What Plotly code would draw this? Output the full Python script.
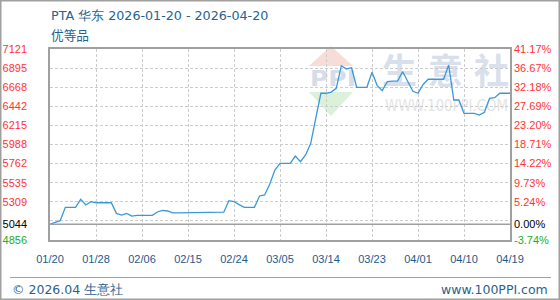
import base64
import plotly.graph_objects as go

# ---------------- data ----------------
x_tick_labels = ["01/20", "01/28", "02/06", "02/15", "02/24", "03/05",
                 "03/14", "03/23", "04/01", "04/10", "04/19"]
tick_step = 9

prices = [
    5044, 5062, 5085, 5244, 5244, 5244, 5338, 5271, 5310, 5298,
    5298, 5298, 5298, 5172, 5152, 5172, 5140, 5148, 5148, 5148,
    5148, 5188, 5208, 5200, 5178, 5178, 5178, 5178, 5178, 5178,
    5186, 5186, 5186, 5186, 5186, 5322, 5310, 5275, 5244, 5244,
    5244, 5378, 5390, 5520, 5686, 5765, 5765, 5765, 5852, 5784,
    5864, 6000, 6300, 6596, 6596, 6610, 6655, 6923, 6884, 6899,
    6667, 6667, 6667, 6845, 6690, 6627, 6733, 6741, 6741, 6852,
    6740, 6620, 6596, 6700, 6762, 6762, 6762, 6762, 6931, 6516,
    6516, 6358, 6358, 6358, 6338, 6370, 6536, 6544, 6596, 6596,
    6596,
]

base_price = 5044
y_min, y_max = 4856, 7121
grid_values = [7121, 6894.5, 6668, 6441.5, 6215, 5988.5, 5762, 5535.5, 5309, 5082.5, 4856]
left_labels = ["7121", "6895", "6668", "6442", "6215", "5988", "5762", "5535", "5309", "", "4856"]
right_labels = ["41.17%", "36.67%", "32.18%", "27.69%", "23.20%", "18.71%", "14.22%",
                "9.73%", "5.24%", "", "-3.74%"]
base_left_label = "5044"
base_right_label = "0.00%"

title_text = "PTA 华东 2026-01-20 - 2026-04-20"
subtitle_text = "优等品"
footer_left = "© 2026.04 生意社"
footer_right = "www.100PPI.com"

# ---------------- styling ----------------
RED = "#ff3333"
GREEN = "#22b022"
BLUE_TXT = "#1d5a8c"
LINE = "#3b98d8"
GRID = "#cccccc"
FRAME = "#a0a0a0"

W, H = 560, 300
L, R, T, B = 50, 50, 49, 60
PW, PH = W - L - R, H - T - B


def px(xp):
    return (xp - L) / PW


def py(yp):
    return (H - B - yp) / PH


x_idx = list(range(len(prices)))
tickvals_x = [i * tick_step for i in range(len(x_tick_labels))]

# y ticks (with the base value line)
yt_vals = grid_values + [base_price]
yl_text = [t if t != "4856" else f"<span style='color:{GREEN}'>{t}</span>" for t in left_labels]
yl_text += [f"<span style='color:#000000'>{base_left_label}</span>"]
yr_text = [t if not t.startswith("-") else f"<span style='color:{GREEN}'>{t}</span>" for t in right_labels]
yr_text += [f"<span style='color:#000000'>{base_right_label}</span>"]

fig = go.Figure()
fig.add_trace(go.Scatter(x=x_idx, y=prices, mode="lines",
                         line=dict(color=LINE, width=1.3), hoverinfo="skip",
                         showlegend=False))
fig.add_trace(go.Scatter(x=x_idx, y=prices, mode="lines", yaxis="y2",
                         line=dict(color="rgba(0,0,0,0)", width=0), hoverinfo="skip",
                         showlegend=False))

tick_font = dict(family="Liberation Sans, Arial, sans-serif", size=11)

fig.update_layout(
    width=W, height=H,
    margin=dict(l=L, r=R, t=T, b=B, pad=0, autoexpand=False),
    paper_bgcolor="white",
    plot_bgcolor="rgba(0,0,0,0)",
    showlegend=False,
    xaxis=dict(range=[0, len(prices) - 1], tickvals=tickvals_x, ticktext=x_tick_labels,
               showgrid=True, gridcolor=GRID, griddash="3px,2px", gridwidth=1,
               showline=True, linecolor=FRAME, linewidth=1.5, mirror=True,
               ticks="", zeroline=False, ticklabelstandoff=8, automargin=False,
               tickfont=dict(color=BLUE_TXT, **tick_font), fixedrange=True),
    yaxis=dict(range=[y_min, y_max], tickvals=yt_vals, ticktext=yl_text,
               showgrid=True, gridcolor=GRID, griddash="3px,2px", gridwidth=1,
               showline=True, linecolor=FRAME, linewidth=1.5, mirror=True,
               ticks="", zeroline=False, ticklabelstandoff=19, automargin=False,
               tickfont=dict(color=RED, **tick_font), fixedrange=True),
    yaxis2=dict(range=[y_min, y_max], tickvals=yt_vals, ticktext=yr_text,
                overlaying="y", side="right", showgrid=False, showline=False,
                ticks="", zeroline=False, ticklabelstandoff=3, automargin=False,
                tickfont=dict(color=RED, **tick_font), fixedrange=True),
)

# base value line
fig.add_shape(type="line", xref="paper", yref="y", x0=0, x1=1, y0=base_price, y1=base_price,
              line=dict(color=FRAME, width=1.5))
# outer frame
fig.add_shape(type="rect", xref="paper", yref="paper",
              x0=px(0.75), x1=px(559.25), y0=py(299.25), y1=py(0.75),
              line=dict(color=FRAME, width=1.5), fillcolor="rgba(0,0,0,0)")
# footer separator
fig.add_shape(type="line", xref="paper", yref="paper",
              x0=px(10), x1=px(551), y0=py(277.5), y1=py(277.5),
              line=dict(color=FRAME, width=1))

# title / subtitle
fig.add_annotation(text=title_text, xref="paper", yref="paper", x=px(49), y=py(15.5),
                   xanchor="left", yanchor="middle", showarrow=False,
                   font=dict(family="DejaVu Sans, sans-serif", size=12.7, color="#236392"))
fig.add_annotation(text=subtitle_text, xref="paper", yref="paper", x=px(49), y=py(34),
                   xanchor="left", yanchor="middle", showarrow=False,
                   font=dict(family="Noto Sans CJK SC, sans-serif", size=12.7, color="#236392"))
# footer
fig.add_annotation(text=footer_left, xref="paper", yref="paper", x=px(9.5), y=py(289),
                   xanchor="left", yanchor="middle", showarrow=False,
                   font=dict(family="DejaVu Sans, sans-serif", size=12.5, color="#2b5f8e"))
fig.add_annotation(text=footer_right, xref="paper", yref="paper", x=px(550), y=py(289),
                   xanchor="right", yanchor="middle", showarrow=False,
                   font=dict(family="DejaVu Sans, sans-serif", size=12.5, color="#2b5f8e"))

# watermark (below everything) as an SVG image
svg = f"""<svg xmlns='http://www.w3.org/2000/svg' width='{W}' height='{H}' viewBox='0 0 {W} {H}'>
<polygon points='309,66 331,46 353,66' fill='#f7dcd8'/>
<text x='310' y='86' font-family='DejaVu Sans' font-weight='bold' font-size='21' fill='#d6ddea' textLength='46' lengthAdjust='spacingAndGlyphs'>PPI</text>
<polygon points='309,92 353,92 331,116' fill='#dcf0dc'/>
<text x='382' y='84' font-family='Noto Sans CJK SC' font-weight='bold' font-size='35' fill='#d9dfeb' letter-spacing='11'>生意社</text>
<text x='385' y='111' font-family='DejaVu Sans' font-size='16' fill='#e4e4e4' textLength='123' lengthAdjust='spacingAndGlyphs'>WWW.100PPI.COM</text>
</svg>"""
uri = "data:image/svg+xml;base64," + base64.b64encode(svg.encode("utf-8")).decode("ascii")
fig.add_layout_image(source=uri, xref="paper", yref="paper",
                     x=px(0), y=py(0), sizex=W / PW, sizey=H / PH,
                     xanchor="left", yanchor="top", sizing="stretch", layer="below")

fig.write_html("out.html", config={"displayModeBar": False})
